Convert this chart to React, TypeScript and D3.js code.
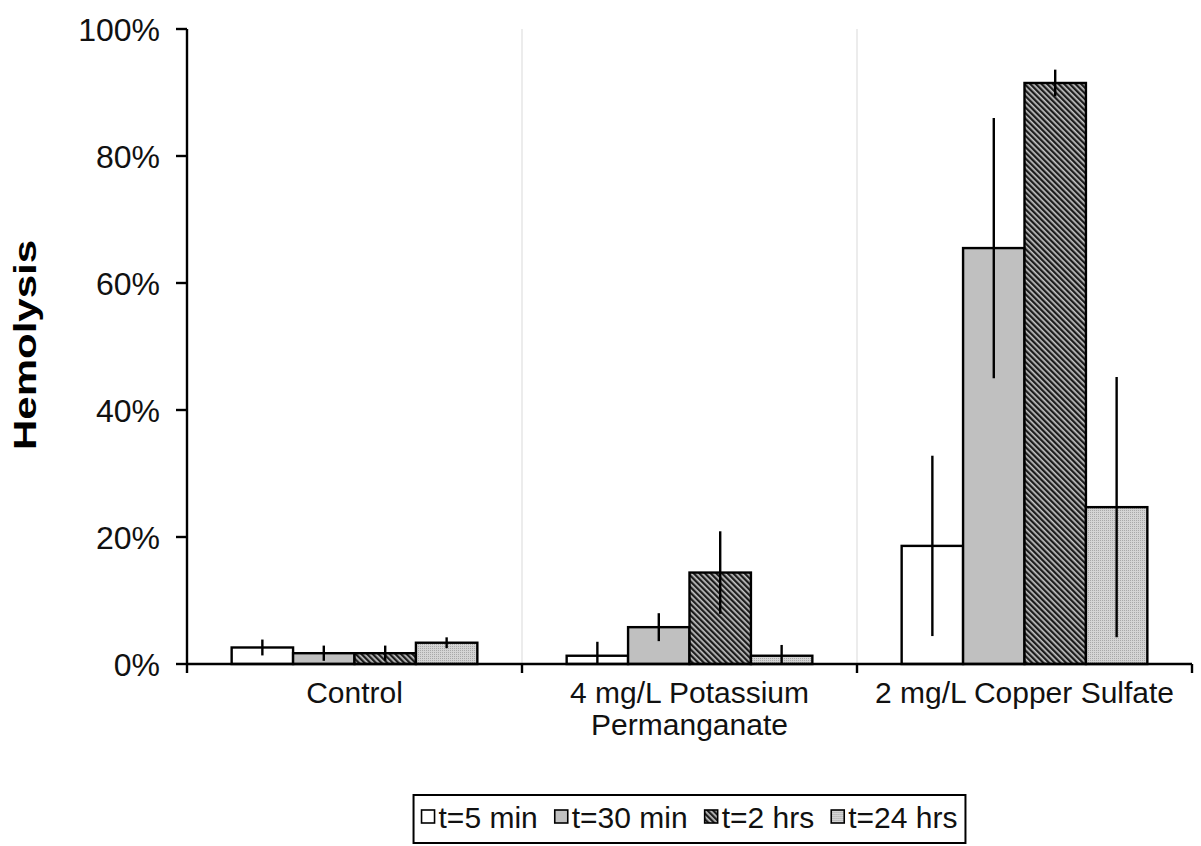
import React, { useEffect, useRef } from "react";
import * as d3 from "d3";

// Treatment groups along the x axis (each entry = label lines)
const categoryLines: string[][] = [
  ["Control"],
  ["4 mg/L Potassium", "Permanganate"],
  ["2 mg/L Copper Sulfate"],
];

// Exposure times (one bar per group)
const seriesNames = ["t=5 min", "t=30 min", "t=2 hrs", "t=24 hrs"];

// Mean hemolysis (%) per group, one array per exposure time
const t5min = [2.6, 1.3, 18.6];
const t30min = [1.7, 5.8, 65.5];
const t2hrs = [1.7, 14.4, 91.5];
const t24hrs = [3.35, 1.3, 24.7];

// Error bar half-widths (%)
const t5minErr = [1.25, 2.2, 14.2];
const t30minErr = [1.2, 2.2, 20.5];
const t2hrsErr = [1.2, 6.5, 2.1];
const t24hrsErr = [0.85, 1.7, 20.5];

const yTicks = [0, 20, 40, 60, 80, 100];

const W = 1201;
const H = 846;
const FONT = "'Liberation Sans', Arial, Helvetica, sans-serif";

export default function App() {
  const ref = useRef<SVGSVGElement | null>(null);

  useEffect(() => {
    const svg = d3.select(ref.current);
    svg.selectAll("*").remove();

    const values = [t5min, t30min, t2hrs, t24hrs];
    const errors = [t5minErr, t30minErr, t2hrsErr, t24hrsErr];
    const fills = ["#ffffff", "#c0c0c0", "url(#hatch)", "url(#dots)"];

    const x0 = d3
      .scaleBand<number>()
      .domain(categoryLines.map((_, i) => i))
      .range([187, 1192])
      .paddingInner(0)
      .paddingOuter(0);
    const x1 = d3
      .scaleBand<number>()
      .domain(seriesNames.map((_, i) => i))
      .range([0, x0.bandwidth()])
      .paddingInner(0)
      .paddingOuter(0.727);
    const y = d3.scaleLinear().domain([0, 100]).range([664, 29]);

    // fill patterns
    const defs = svg.append("defs");
    const hatch = defs
      .append("pattern")
      .attr("id", "hatch")
      .attr("patternUnits", "userSpaceOnUse")
      .attr("width", 4)
      .attr("height", 4)
      .attr("patternTransform", "rotate(-45)");
    hatch.append("rect").attr("width", 4).attr("height", 4).attr("fill", "#c4c4c4");
    hatch.append("rect").attr("width", 2.3).attr("height", 4).attr("fill", "#1c1c1c");

    const dots = defs
      .append("pattern")
      .attr("id", "dots")
      .attr("patternUnits", "userSpaceOnUse")
      .attr("width", 2)
      .attr("height", 2);
    dots.append("rect").attr("width", 2).attr("height", 2).attr("fill", "#d4d4d4");
    dots.append("rect").attr("width", 1).attr("height", 1).attr("fill", "#a8a8a8");

    // vertical separators between groups
    svg
      .append("g")
      .selectAll("line")
      .data(categoryLines.slice(1).map((_, i) => i + 1))
      .join("line")
      .attr("x1", (d) => x0(d)!)
      .attr("x2", (d) => x0(d)!)
      .attr("y1", y(100))
      .attr("y2", y(0))
      .attr("stroke", "#d9d9d9")
      .attr("stroke-width", 1);

    // bars
    const gBars = svg.append("g");
    values.forEach((series, si) => {
      gBars
        .append("g")
        .selectAll("rect")
        .data(series)
        .join("rect")
        .attr("x", (_, ci) => x0(ci)! + x1(si)!)
        .attr("y", (d) => y(d))
        .attr("width", x1.bandwidth())
        .attr("height", (d) => y(0) - y(d))
        .attr("fill", fills[si])
        .attr("stroke", "#000")
        .attr("stroke-width", 2.4);
    });

    // error bars (clipped at the axis)
    const gErr = svg.append("g");
    values.forEach((series, si) => {
      gErr
        .append("g")
        .selectAll("line")
        .data(series)
        .join("line")
        .attr("x1", (_, ci) => x0(ci)! + x1(si)! + x1.bandwidth() / 2)
        .attr("x2", (_, ci) => x0(ci)! + x1(si)! + x1.bandwidth() / 2)
        .attr("y1", (d, ci) => y(d + errors[si][ci]))
        .attr("y2", (d, ci) => y(Math.max(0, d - errors[si][ci])))
        .attr("stroke", "#000")
        .attr("stroke-width", 2.4);
    });

    // y axis
    const yAxis = svg.append("g").attr("transform", "translate(187,0)");
    yAxis
      .append("line")
      .attr("x1", 0)
      .attr("x2", 0)
      .attr("y1", y(100))
      .attr("y2", 673)
      .attr("stroke", "#000")
      .attr("stroke-width", 2.4);
    yAxis
      .selectAll("line.tick")
      .data(yTicks)
      .join("line")
      .attr("class", "tick")
      .attr("x1", -11)
      .attr("x2", 0)
      .attr("y1", (d) => y(d))
      .attr("y2", (d) => y(d))
      .attr("stroke", "#000")
      .attr("stroke-width", 2.4);
    yAxis
      .selectAll("text")
      .data(yTicks)
      .join("text")
      .attr("x", -27)
      .attr("y", (d) => y(d))
      .attr("dy", "0.36em")
      .attr("text-anchor", "end")
      .attr("font-family", FONT)
      .attr("font-size", 32)
      .attr("fill", "#111")
      .text((d) => `${d}%`);

    // x axis
    svg
      .append("line")
      .attr("x1", 187)
      .attr("x2", 1192)
      .attr("y1", y(0))
      .attr("y2", y(0))
      .attr("stroke", "#000")
      .attr("stroke-width", 2.4);
    const xTickPos = categoryLines.map((_, i) => x0(i)! + x0.bandwidth());
    svg
      .append("g")
      .selectAll("line")
      .data(xTickPos)
      .join("line")
      .attr("x1", (d) => d)
      .attr("x2", (d) => d)
      .attr("y1", y(0))
      .attr("y2", 673)
      .attr("stroke", "#000")
      .attr("stroke-width", 2.4);

    const gCat = svg.append("g");
    categoryLines.forEach((lines, ci) => {
      const t = gCat
        .append("text")
        .attr("x", x0(ci)! + x0.bandwidth() / 2)
        .attr("y", 703)
        .attr("text-anchor", "middle")
        .attr("font-family", FONT)
        .attr("font-size", 30)
        .attr("fill", "#111");
      lines.forEach((ln, li) => {
        t.append("tspan")
          .attr("x", x0(ci)! + x0.bandwidth() / 2)
          .attr("dy", li === 0 ? 0 : 32)
          .text(ln);
      });
    });

    // y axis title
    svg
      .append("text")
      .attr("transform", "translate(36,345) rotate(-90)")
      .attr("text-anchor", "middle")
      .attr("font-family", FONT)
      .attr("font-weight", "bold")
      .attr("font-size", 31)
      .attr("textLength", 210)
      .attr("lengthAdjust", "spacingAndGlyphs")
      .attr("fill", "#000")
      .text("Hemolysis");

    // legend
    const legend = svg.append("g");
    const box = legend
      .append("rect")
      .attr("y", 795)
      .attr("height", 48)
      .attr("fill", "#fff")
      .attr("stroke", "#000")
      .attr("stroke-width", 2);
    const sq = 13;
    const gapSqText = 4;
    const gapItems = 17;
    let cx = 0;
    const items = legend.append("g");
    seriesNames.forEach((name, si) => {
      items
        .append("rect")
        .attr("x", cx)
        .attr("y", 810)
        .attr("width", sq)
        .attr("height", sq)
        .attr("fill", fills[si])
        .attr("stroke", "#000")
        .attr("stroke-width", 1.6);
      const txt = items
        .append("text")
        .attr("x", cx + sq + gapSqText)
        .attr("y", 828)
        .attr("font-family", FONT)
        .attr("font-size", 30)
        .attr("fill", "#111")
        .text(name);
      const w = (txt.node() as SVGTextElement).getComputedTextLength();
      cx += sq + gapSqText + w + gapItems;
    });
    const total = cx - gapItems;
    const pad = 8;
    const center = (187 + 1192) / 2;
    const left = center - total / 2;
    items.attr("transform", `translate(${left},0)`);
    box.attr("x", left - pad).attr("width", total + 2 * pad);
  }, []);

  return (
    <div style={{ position: "absolute", left: 0, top: 0 }}>
      <svg ref={ref} width={W} height={H} style={{ display: "block", background: "#fff" }} />
    </div>
  );
}
